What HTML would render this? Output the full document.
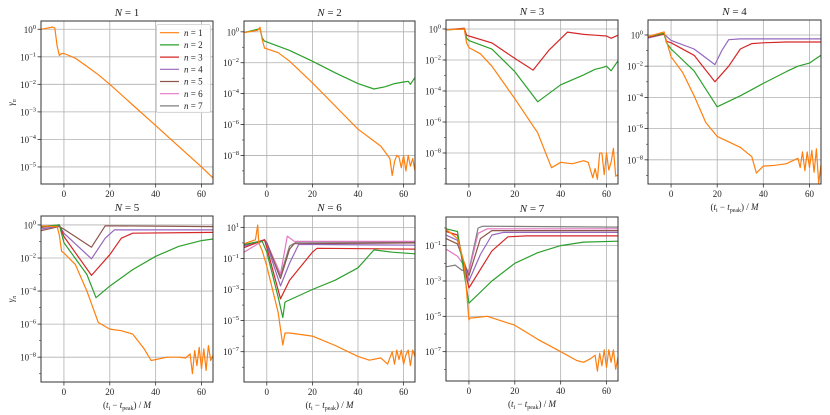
<!DOCTYPE html>
<html><head><meta charset="utf-8"><style>
html,body{margin:0;padding:0;background:#fff;}
svg{display:block;font-family:"Liberation Serif",serif;}
</style></head><body>
<svg id="fig" width="830" height="415" viewBox="0 0 830 415" xmlns="http://www.w3.org/2000/svg"></svg>
<script>
// ---- data (t, log10 gamma) ----
const xTicks=[0,20,40,60];
const colors=["#ff7f0e","#2ca02c","#d62728","#9467bd","#8c564b","#e377c2","#7f7f7f"];
const N1_n1=[[-10,0],[-5,0.08],[-4,0.05],[-3,-0.6],[-2,-0.95],[-1,-0.88],[0,-0.88],[5,-1.05],[10,-1.35],[15,-1.65],[20,-2.0],[30,-2.75],[40,-3.5],[50,-4.25],[60,-5.0],[65,-5.4]];
const N2_n1=[[-10,-0.05],[-4,0.1],[-3,0.3],[-2,-0.5],[-1,-1.05],[0,-1.1],[5,-1.35],[10,-1.9],[20,-3.3],[30,-4.8],[40,-6.3],[50,-7.4],[54,-8.2],[55,-9.3],[56,-8.4],[57,-8.0],[58,-8.1],[59,-8.8],[60,-8.0],[61,-9.0],[62,-8.0],[63,-8.7],[64,-8.2],[65,-9.0]];
const N2_n2=[[-10,-0.05],[-3,0.2],[-2,-0.4],[-1,-0.6],[0,-0.65],[10,-1.2],[20,-1.9],[30,-2.65],[40,-3.35],[47,-3.7],[52,-3.55],[56,-3.35],[60,-3.25],[62,-3.2],[63,-3.4],[65,-2.95]];
const N3_n1=[[-10,-0.05],[-2,0],[-1,-0.9],[0,-1.2],[5,-1.6],[10,-2.4],[20,-4.5],[30,-6.7],[36,-8.95],[40,-8.6],[45,-8.7],[50,-8.5],[52,-8.6],[54,-9.6],[55,-9.0],[56,-9.7],[57,-8.0],[58,-8.0],[59,-9.4],[60,-8.0],[61,-9.1],[62,-8.6],[63,-7.7],[64,-9.5],[65,-9.4]];
const N3_n2=[[-10,-0.05],[-2,0.0],[-1,-0.6],[0,-0.75],[10,-1.3],[20,-2.75],[30,-4.7],[40,-3.6],[50,-2.96],[55,-2.6],[58,-2.5],[60,-2.4],[62,-2.7],[65,-2.05]];
const N3_n3=[[-10,-0.05],[-2,0.05],[-1,-0.4],[0,-0.45],[10,-0.9],[20,-1.9],[28,-2.65],[35,-1.35],[43,-0.2],[50,-0.35],[55,-0.4],[60,-0.45],[62,-0.6],[65,-0.4]];
const N4_n1=[[-10,-0.1],[-3,0.2],[-2,-0.4],[0,-1.4],[5,-2.4],[10,-3.9],[15,-5.6],[20,-6.5],[30,-7.2],[35,-7.8],[37,-8.85],[40,-8.4],[45,-8.35],[50,-8.25],[55,-7.9],[56,-8.5],[57,-7.5],[58,-8.7],[59,-7.5],[60,-8.5],[61,-7.4],[62,-8.8],[63,-7.3],[64,-9.5],[65,-8.3]];
const N4_n2=[[-10,-0.1],[-3,0.1],[-2,-0.5],[0,-0.9],[10,-2.3],[20,-4.6],[30,-3.9],[40,-3.1],[50,-2.35],[55,-2.0],[60,-1.8],[62,-1.6],[65,-1.3]];
const N4_n3=[[-10,-0.15],[-3,0.05],[-2,-0.4],[0,-0.5],[10,-1.3],[19,-3.0],[25,-2.0],[30,-0.9],[35,-0.55],[40,-0.5],[50,-0.45],[65,-0.45]];
const N4_n4=[[-10,-0.2],[-3,0.05],[0,-0.35],[10,-0.9],[19,-1.9],[22,-1.0],[25,-0.3],[30,-0.25],[65,-0.25]];
const N5_n1=[[-10,-0.05],[-3,-0.1],[-2,-0.6],[-1,-1.6],[0,-1.7],[5,-2.4],[10,-4.0],[15,-5.9],[20,-6.3],[25,-6.4],[30,-6.6],[35,-7.5],[38,-8.2],[45,-8.0],[50,-8.0],[53,-8.05],[55,-7.8],[56,-9.0],[57,-7.6],[58,-8.5],[59,-7.4],[60,-8.7],[61,-7.5],[62,-8.8],[63,-7.3],[64,-8.2],[65,-7.9]];
const N5_n2=[[-10,-0.1],[-2,0.0],[0,-1.07],[10,-3.0],[14,-4.4],[20,-3.7],[30,-2.7],[40,-1.9],[50,-1.3],[60,-0.95],[65,-0.85]];
const N5_n3=[[-10,-0.15],[-2,0.0],[0,-0.7],[12,-3.05],[20,-1.8],[25,-0.8],[30,-0.5],[65,-0.45]];
const N5_n4=[[-10,-0.25],[-2,-0.05],[0,-0.5],[12,-2.05],[18,-0.8],[22,-0.3],[65,-0.3]];
const N5_n5=[[-10,-0.35],[-2,-0.1],[0,-0.25],[12,-1.35],[18,-0.05],[65,-0.1]];
const N6_n1=[[-10,-0.05],[-5,0.2],[-4,1.15],[-3.5,0],[-2,-0.5],[0,-1.5],[5,-4.5],[7,-6.57],[8,-5.8],[10,-5.8],[20,-6.0],[30,-6.6],[40,-7.3],[45,-7.55],[50,-7.4],[53,-7.8],[55,-7.0],[56,-7.8],[57,-6.9],[58,-7.5],[59,-6.9],[60,-7.8],[61,-7.2],[62,-6.9],[63,-7.9],[64,-6.9],[65,-7.3]];
const N6_n2=[[-10,-0.1],[-2,0.1],[0,-0.6],[5,-3.5],[7,-4.8],[8,-3.8],[20,-3.0],[30,-2.4],[40,-1.6],[47,-0.45],[55,-0.6],[65,-0.7]];
const N6_n3=[[-10,-0.3],[-1,0.2],[0,-0.3],[6,-3.6],[10,-2.4],[20,-0.6],[22,-0.35],[65,-0.4]];
const N6_n4=[[-10,-0.2],[-1,0.2],[0,-0.1],[6,-2.77],[10,-1.3],[14,-0.1],[65,-0.15]];
const N6_n5=[[-10,-0.15],[-1,0.2],[0,0.0],[6,-2.3],[10,-0.4],[12,-0.05],[65,0.0]];
const N6_n6=[[-10,-0.6],[-1,0.2],[0,0.0],[6,-2.0],[9,0.44],[12,0.1],[65,0.1]];
const N6_n7=[[-10,-0.3],[-1,0.2],[0,0.0],[6,-2.1],[10,-0.2],[13,0.05],[65,0.05]];
const N7_n1=[[-10,-0.07],[-5,-0.6],[-2,-2.0],[0,-5.2],[0.5,-5.1],[8,-5.0],[20,-5.5],[30,-6.3],[40,-7.0],[47,-7.5],[50,-7.6],[53,-7.4],[55,-7.2],[56,-8.1],[57,-7.1],[58,-7.8],[59,-6.9],[60,-7.9],[61,-6.9],[62,-7.6],[63,-6.9],[64,-8.0],[65,-7.3]];
const N7_n2=[[-10,-0.05],[-5,-0.2],[0,-4.26],[10,-3.0],[20,-2.0],[30,-1.4],[40,-1.0],[50,-0.8],[65,-0.75]];
const N7_n3=[[-10,-0.2],[-5,-0.4],[0,-3.4],[10,-1.3],[17,-0.5],[25,-0.45],[65,-0.45]];
const N7_n4=[[-10,-0.4],[-5,-0.7],[0,-3.0],[5,-1.5],[10,-0.4],[15,-0.25],[65,-0.25]];
const N7_n5=[[-10,-0.6],[-5,-0.9],[0,-2.7],[5,-0.6],[10,-0.15],[65,-0.15]];
const N7_n6=[[-10,-1.2],[-5,-1.6],[0,-2.5],[4,-0.3],[8,-0.05],[65,-0.05]];
const N7_n7=[[-10,-2.2],[-6,-2.1],[-3,-2.4],[0,-2.4],[4,0.0],[6,0.1],[65,0.05]];
const panelTicks=[[0,-1,-2,-3,-4,-5],[0,-2,-4,-6,-8],[0,-2,-4,-6,-8],[0,-2,-4,-6,-8],[0,-2,-4,-6,-8],[1,-1,-3,-5,-7],[-1,-3,-5,-7]];
const panelSeries=[[N1_n1],[N2_n1,N2_n2],[N3_n1,N3_n2,N3_n3],[N4_n1,N4_n2,N4_n3,N4_n4],[N5_n1,N5_n2,N5_n3,N5_n4,N5_n5],[N6_n1,N6_n2,N6_n3,N6_n4,N6_n5,N6_n6,N6_n7],[N7_n1,N7_n2,N7_n3,N7_n4,N7_n5,N7_n6,N7_n7]];
// ---- layout ----
const boxes=[[41,213,21,184],[244,415,21,184],[446,618,20,184],[648,821,20,184],[41,213,216,382],[244,415,216,382],[446,618,217,381]];
const yDom=[[-5.62,0.3],[-9.85,0.7],[-10,0.58],[-9.55,0.96],[-9.5,0.54],[-8.95,1.73],[-8.66,0.62]];
const NS="http://www.w3.org/2000/svg";
const svg=document.getElementById('fig');
function mk(tag,attrs,parent){const e=document.createElementNS(NS,tag);for(const k in attrs)e.setAttribute(k,attrs[k]);(parent||svg).appendChild(e);return e;}
function supLabel(g,x,y,base,exp,anchor){
  const t=mk('text',{x:x,y:y,'font-size':9,'text-anchor':anchor||'end',fill:'#222'},g);
  t.appendChild(document.createTextNode(base));
  const s=mk('tspan',{dy:-4,'font-size':6.5},t);s.textContent=exp;return t;
}
for(let p=0;p<7;p++){
  const [x0,x1,y0,y1]=boxes[p];const [lo,hi]=yDom[p];
  const X=t=>x0+(t+10)/75*(x1-x0);
  const Y=v=>y0+(hi-v)/(hi-lo)*(y1-y0);
  const g=mk('g',{});
  
  
  const cp=mk('clipPath',{id:'cp'+p},g);mk('rect',{x:x0,y:y0,width:x1-x0,height:y1-y0},cp);
  // grid
  for(const t of xTicks){const l=mk('line',{x1:X(t),x2:X(t),y1:y0,y2:y1,stroke:'#b0b0b0','stroke-width':0.8},g);
    
    mk('line',{x1:X(t),x2:X(t),y1:y1,y2:y1+3.5,stroke:'#333','stroke-width':0.8},g);
    const tl=mk('text',{x:X(t),y:y1+13,'font-size':9,'text-anchor':'middle',fill:'#222'},g);tl.textContent=t;
    }
  for(let e=Math.ceil(lo);e<=Math.floor(hi);e++){mk('line',{x1:x0-2,x2:x0,y1:Y(e),y2:Y(e),stroke:'#333','stroke-width':0.6},g);}
  for(const e of panelTicks[p]){const l=mk('line',{x1:x0,x2:x1,y1:Y(e),y2:Y(e),stroke:'#b0b0b0','stroke-width':0.8},g);
    
    mk('line',{x1:x0-3.5,x2:x0,y1:Y(e),y2:Y(e),stroke:'#333','stroke-width':0.8},g);
    const tl=supLabel(g,x0-5,Y(e)+3.5,'10',e<0?'−'+(-e):String(e));
    }
  // series
  const ser=panelSeries[p];
  for(let i=ser.length-1;i>=0;i--){
    const pts=ser[i].map(d=>X(d[0]).toFixed(1)+','+Y(d[1]).toFixed(1)).join(' ');
    const pl=mk('polyline',{points:pts,fill:'none',stroke:colors[i],'stroke-width':1.2,'stroke-linejoin':'round','clip-path':'url(#cp'+p+')'},g);
    
    
  }
  const fr=mk('rect',{x:x0,y:y0,width:x1-x0,height:y1-y0,fill:'none',stroke:'#333','stroke-width':1},g);
  
  const ti=mk('text',{x:(x0+x1)/2,y:y0-5,'font-size':11,'text-anchor':'middle',fill:'#222'},g);
  ti.innerHTML='<tspan font-style="italic">N</tspan> = '+(p+1);
  
  if(p>=3){
    const xl=mk('text',{x:(x0+x1)/2,y:y1+26,'font-size':9,'text-anchor':'middle',fill:'#222'},g);
    xl.innerHTML='(<tspan font-style="italic">t</tspan><tspan font-size="6" dy="2">i</tspan><tspan dy="-2"> − </tspan><tspan font-style="italic">t</tspan><tspan font-size="6" dy="2">peak</tspan><tspan dy="-2">) / </tspan><tspan font-style="italic">M</tspan>';
    
  }
  if(p==0||p==4){
    const yc=(y0+y1)/2;
    const yl=mk('text',{x:0,y:0,'font-size':9,'text-anchor':'middle',fill:'#222',transform:'translate(14,'+yc+') rotate(-90)'},g);
    yl.innerHTML='<tspan font-style="italic">γ</tspan><tspan font-size="6" dy="2" font-style="italic">n</tspan>';
    
  }
}
// legend
const lg=mk('g',{});


mk('rect',{x:156.5,y:24.5,width:54,height:88,fill:'#fff','fill-opacity':0.85,stroke:'#ccc','stroke-width':0.8,rx:2},lg);
for(let i=0;i<7;i++){
  const yy=32.7+i*12.2;
  const e=mk('g',{},lg);
  
  
  mk('line',{x1:160,x2:179,y1:yy,y2:yy,stroke:colors[i],'stroke-width':1.2},e);
  const t=mk('text',{x:184,y:yy+3.2,'font-size':9,fill:'#222'},e);
  t.innerHTML='<tspan font-style="italic">n</tspan> = '+(i+1);
}
</script>
</body></html>
